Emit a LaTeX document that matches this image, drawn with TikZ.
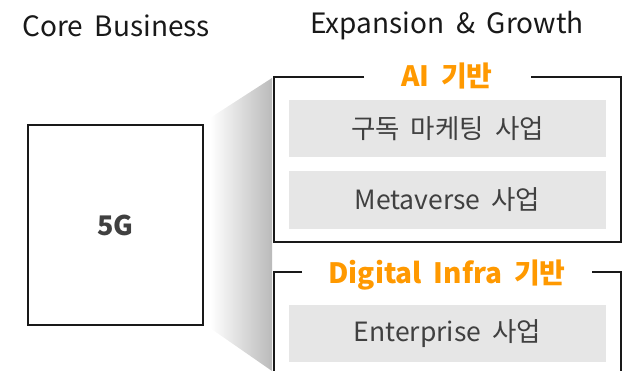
\documentclass[tikz,border=0pt]{standalone}
\usepackage{fontspec}
\setmainfont{Noto Sans CJK KR}
\definecolor{orng}{HTML}{FF9900}
\definecolor{txtgray}{HTML}{404040}
\definecolor{boxgray}{HTML}{E6E6E6}
\newcommand{\widesp}{\spaceskip=0.42em plus 0.1em\relax}
\begin{document}
\begin{tikzpicture}[x=1pt,y=-1pt,
  frame/.style={line width=2pt, draw=black!90},
  item/.style={fill=boxgray, draw=none, minimum width=317pt, minimum height=57pt, inner sep=0pt, text=txtgray, font=\fontsize{26.5}{30}\selectfont\widesp},
  head/.style={text=black!90, font=\fontsize{28}{32}\selectfont\widesp},
  ttl/.style={text=orng, font=\bfseries\fontsize{28}{32}\selectfont\widesp}]
\useasboundingbox (0,0) rectangle (628,371);
\begin{scope}
\clip (0,0) rectangle (628,371);
% gradient wedge
\shade[left color=white, right color=black!27] (210,118) -- (272,78) -- (272,371) -- (210,328) -- cycle;
% 5G box
\node[draw=black!90, line width=2pt, fill=white, minimum width=175pt, minimum height=200pt, inner sep=0pt, text=txtgray, font=\bfseries\fontsize{27}{30}\selectfont] (core) at (115.5,225) {5G};
% AI box
\coordinate (a1) at (364,77);
\coordinate (a2) at (531,77);
\draw[frame] (a1) -- (274,77) -- (274,242) -- (621,242) -- (621,77) -- (a2);
\node[ttl] (ai) at (447,76) {AI 기반};
\node[item] (sub) at (447.5,128.5) {구독 마케팅 사업};
\node[item] (meta) at (447.5,200) {Metaverse 사업};
% Digital box
\coordinate (d1) at (302,272);
\coordinate (d2) at (592,272);
\draw[frame] (d1) -- (274,272) -- (274,390);
\draw[frame] (d2) -- (621,272) -- (621,390);
\node[ttl] (di) at (447,275) {Digital Infra 기반};
\node[item] (ent) at (447.5,333.5) {Enterprise 사업};
\end{scope}
\node[head] (h1) at (116,25.5) {Core Business};
\node[head] (h2) at (447,25.5) {Expansion \& Growth};
\end{tikzpicture}
\end{document}
